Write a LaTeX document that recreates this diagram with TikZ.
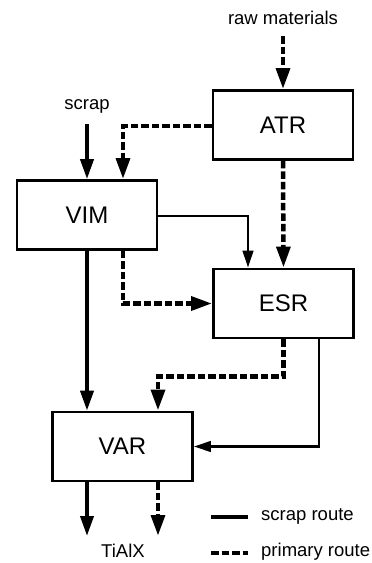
\documentclass[tikz,border=0pt]{standalone}
\usepackage{fontspec}
\setmainfont{Liberation Sans}
\usetikzlibrary{arrows.meta}
\begin{document}
\begin{tikzpicture}[x=1pt,y=-1pt,
  box/.style={draw,line width=2.7pt,minimum width=140pt,minimum height=69pt,inner sep=0pt,
    font=\fontsize{24}{28}\selectfont},
  lbl/.style={inner sep=0pt,font=\fontsize{18.5}{22}\selectfont},
  thick solid/.style={line width=3.8pt,-{Triangle[length=20pt,width=13pt]}},
  thin solid/.style={line width=2.7pt,-{Triangle[length=17pt,width=10.5pt]}},
  prim/.style={line width=4.5pt,dash pattern=on 7.5pt off 3pt,-{Triangle[length=21pt,width=13.5pt]}},
  legsolid/.style={line width=3.8pt},
  legdash/.style={line width=4.5pt,dash pattern=on 7.5pt off 3pt},
]
\useasboundingbox (0,0) rectangle (372,563);
% boxes
\node[box] (ATR) at (283,125) {ATR};
\node[box] (VIM) at (87,215) {VIM};
\node[box] (ESR) at (283.5,303.5) {ESR};
\node[box] (VAR) at (122.5,446.5) {VAR};
% labels
\node[lbl] (raw) at (283,18) {raw materials};
\node[lbl] (scrap) at (87,106) {scrap};
\node[lbl] (tialx) at (123,551) {TiAlX};
\coordinate (rawstart) at (283,36);
\coordinate (scrapstart) at (87,124);
\coordinate (outsolid) at (87,536);
\coordinate (outdash) at (158,536);
% connectors
\draw[prim] (rawstart) -- (ATR.north);
\draw[thick solid] (scrapstart) -- (VIM.north);
\draw[prim] ([yshift=-1pt]ATR.west) -| ([xshift=36pt]VIM.north);
\draw[thin solid] ([yshift=-1pt]VIM.east) -| ([xshift=-35.5pt]ESR.north);
\draw[prim] (ATR.south) -- (ESR.north);
\draw[prim] ([xshift=36pt]VIM.south) |- (ESR.west);
\draw[prim] (ESR.south) -- ++(0,37) -| ([xshift=35.5pt]VAR.north);
\draw[thin solid] ([xshift=35.5pt]ESR.south) |- (VAR.east);
\draw[thick solid] (VIM.south) -- ([xshift=-35.5pt]VAR.north);
\draw[thick solid] ([xshift=-35.5pt]VAR.south) -- (outsolid);
\draw[prim] ([xshift=35.5pt]VAR.south) -- (outdash);
% legend
\coordinate (l1a) at (211,517);
\coordinate (l1b) at (248,517);
\coordinate (l2a) at (211,553);
\coordinate (l2b) at (248,553);
\draw[legsolid] (l1a) -- (l1b);
\draw[legdash] (l2a) -- (l2b);
\node[lbl,anchor=west] (leg1) at (261,516) {scrap route};
\node[lbl,anchor=west] (leg2) at (261,552) {primary route};
\end{tikzpicture}
\end{document}
